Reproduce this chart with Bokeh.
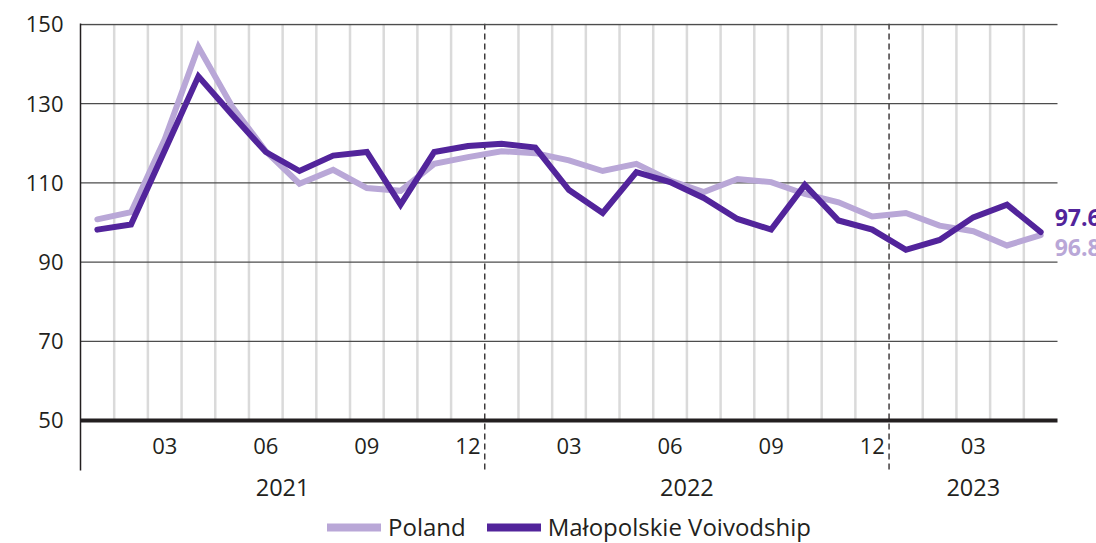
from bokeh.plotting import figure
from bokeh.layouts import column
from bokeh.models import Range1d, FixedTicker, Span, Legend, LegendItem
from bokeh.core.properties import value
from bokeh.embed import file_html
from bokeh.resources import INLINE

# ---------------- data ----------------
months = [
    "2021-01", "2021-02", "2021-03", "2021-04", "2021-05", "2021-06",
    "2021-07", "2021-08", "2021-09", "2021-10", "2021-11", "2021-12",
    "2022-01", "2022-02", "2022-03", "2022-04", "2022-05", "2022-06",
    "2022-07", "2022-08", "2022-09", "2022-10", "2022-11", "2022-12",
    "2023-01", "2023-02", "2023-03", "2023-04", "2023-05",
]
poland = [100.8, 102.6, 121.0, 144.3, 129.3, 118.0, 109.8, 113.3, 108.7, 108.0,
          114.8, 116.5, 118.0, 117.5, 115.7, 113.0, 114.8, 110.6, 107.7, 111.0,
          110.2, 107.2, 105.1, 101.5, 102.4, 99.2, 97.8, 94.2, 96.8]
malopolskie = [98.2, 99.5, 118.2, 136.9, 127.2, 117.8, 113.0, 116.9, 117.8, 104.5,
               117.8, 119.3, 119.9, 118.9, 108.2, 102.4, 112.7, 110.2, 106.2, 100.9,
               98.2, 109.5, 100.5, 98.2, 93.1, 95.6, 101.3, 104.5, 97.6]
series_names = ["Poland", "Małopolskie Voivodship"]
y_ticks = [50, 70, 90, 110, 130, 150]
month_tick_labels = ["03", "06", "09", "12"]

# ---------------- style ----------------
FONT = "Open Sans"
TXT = "#231F20"
LIGHT = "#B9A7D7"
DARK = "#52249B"
GRIDC = "#4d4d4d"
SEPC = "#DADADA"

n = len(months)
xs = [i + 0.5 for i in range(n)]
MONTH_PX = 33.69
EXTRA = 39 / MONTH_PX          # room on the right for the end labels

p = figure(frame_width=1016, frame_height=447, output_backend="svg",
           toolbar_location=None,
           x_range=Range1d(0, n + EXTRA), y_range=Range1d(37.37, 150.25),
           min_border_left=80, min_border_right=0, min_border_top=23,
           min_border_bottom=40)
p.outline_line_color = None
p.xgrid.visible = False
p.ygrid.visible = False

# light month separators
sep = [i for i in range(1, n) if months[i][5:] != "01"]
p.segment(x0=sep, y0=y_ticks[0], x1=sep, y1=y_ticks[-1],
          line_color=SEPC, line_width=2.5)

# horizontal grid lines over the data extent
hl = y_ticks[1:]
p.segment(x0=[0] * len(hl), y0=hl, x1=[n] * len(hl), y1=hl,
          line_color=GRIDC, line_width=1.3)
# baseline
p.segment(x0=[0], y0=[y_ticks[0]], x1=[n], y1=[y_ticks[0]],
          line_color=TXT, line_width=4)

# year separators (dashed)
for i in range(1, n):
    if months[i][5:] == "01":
        p.add_layout(Span(location=i, dimension="height", line_color=TXT,
                          line_dash="6 4", line_width=1.3, level="underlay"))

r1 = p.line(xs, poland, line_color=LIGHT, line_width=6,
            line_cap="round", line_join="miter")
r2 = p.line(xs, malopolskie, line_color=DARK, line_width=6,
            line_cap="round", line_join="miter")

# month labels inside the lower band
ml_x = [i + 0.5 for i, m in enumerate(months) if m[5:] in month_tick_labels]
ml_t = [m[5:] for m in months if m[5:] in month_tick_labels]
p.text(x=ml_x, y=43.5, text=ml_t, text_font=value(FONT),
       text_font_size="22px", text_align="center", text_baseline="middle",
       text_color=TXT)

# end-of-series value labels
p.text(x=[xs[-1]], y=[malopolskie[-1]], text=[f"{malopolskie[-1]:.1f}"],
       x_offset=14, y_offset=-14, text_font=value(FONT),
       text_font_size="23px", text_font_style="bold", text_color=DARK,
       text_baseline="middle", text_align="left")
p.text(x=[xs[-1]], y=[poland[-1]], text=[f"{poland[-1]:.1f}"],
       x_offset=14, y_offset=12, text_font=value(FONT),
       text_font_size="23px", text_font_style="bold", text_color=LIGHT,
       text_baseline="middle", text_align="left")

# y axis
p.yaxis.ticker = FixedTicker(ticks=y_ticks)
p.yaxis.major_label_text_font = FONT
p.yaxis.major_label_text_font_size = "22px"
p.yaxis.major_label_text_color = TXT
p.yaxis.major_label_standoff = 17
p.yaxis.major_tick_out = 0
p.yaxis.major_tick_in = 0
p.yaxis.minor_tick_line_color = None
p.yaxis.axis_line_color = TXT
p.yaxis.axis_line_width = 1.5

# x axis: years
years = sorted(set(m[:4] for m in months))
centers = {}
for y in years:
    idx = [i for i, m in enumerate(months) if m[:4] == y]
    centers[(idx[0] + idx[-1] + 1) / 2] = y
p.xaxis.ticker = FixedTicker(ticks=list(centers.keys()))
p.xaxis.major_label_overrides = centers
p.xaxis.axis_line_color = None
p.xaxis.major_tick_line_color = None
p.xaxis.minor_tick_line_color = None
p.xaxis.major_label_standoff = 2
p.xaxis.major_label_text_font = FONT
p.xaxis.major_label_text_font_size = "23.5px"
p.xaxis.major_label_text_color = TXT

# ---------------- legend strip ----------------
lg = figure(width=1096, height=33, output_backend="svg", toolbar_location=None,
            x_axis_type=None, y_axis_type=None, min_border=0,
            x_range=Range1d(0, 1), y_range=Range1d(0, 1))
lg.outline_line_color = None
lg.grid.visible = False
# legend keys only (drawn off-range, so just their legend samples show)
k1 = lg.line([-10, -9], [-10, -9], line_color=LIGHT, line_width=8, line_cap="round")
k2 = lg.line([-10, -9], [-10, -9], line_color=DARK, line_width=8, line_cap="round")
legend = Legend(items=[LegendItem(label=series_names[0], renderers=[k1]),
                       LegendItem(label=series_names[1], renderers=[k2])],
                orientation="horizontal", location=(247, 0),
                border_line_color=None, background_fill_alpha=0,
                glyph_width=54, glyph_height=26, label_standoff=7, spacing=21,
                padding=0, margin=0, label_height=26,
                label_text_font=FONT, label_text_font_size="24px",
                label_text_color=TXT)
lg.add_layout(legend, "center")

open("out.html", "w").write(file_html(column(p, lg, spacing=0), INLINE))
